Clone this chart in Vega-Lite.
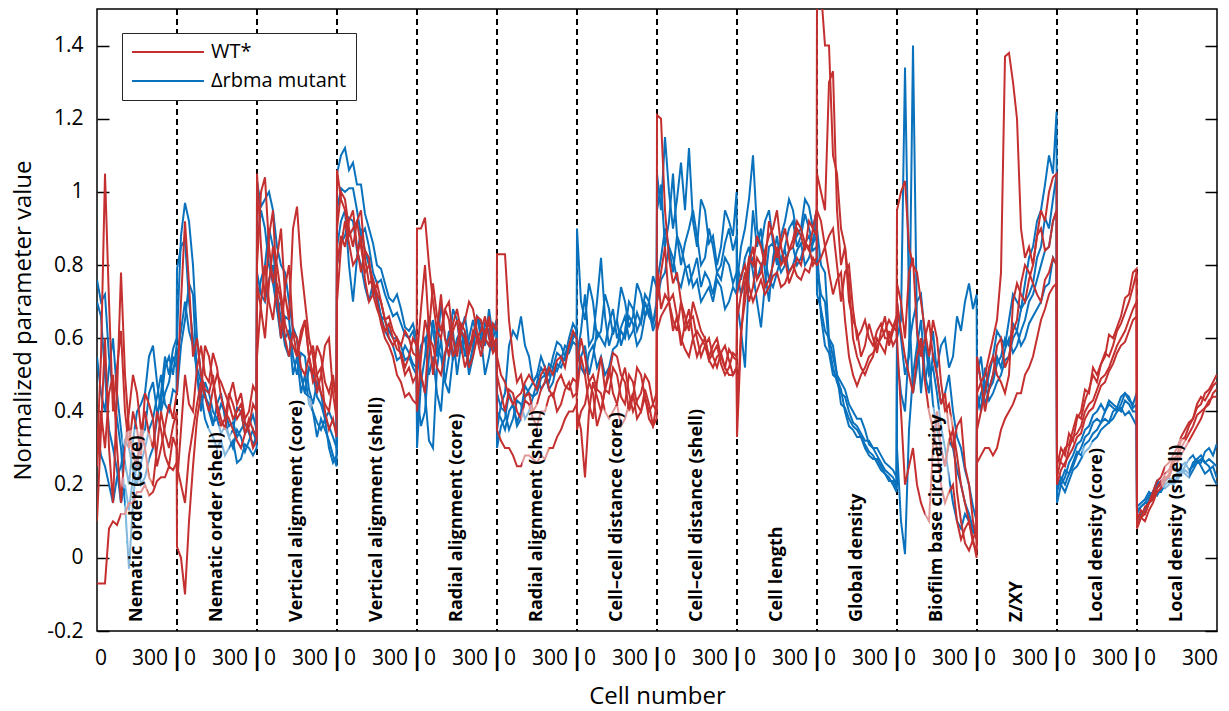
{
  "$schema": "https://vega.github.io/schema/vega-lite/v6.json",
  "width": 1120,
  "height": 622,
  "autosize": "none",
  "padding": {"left": 97, "top": 9, "right": 12, "bottom": 80},
  "background": "white",
  "config": {
    "font": "Open Sans",
    "view": {"stroke": "black", "strokeWidth": 1.5},
    "axis": {"labelFont": "Open Sans", "titleFont": "Open Sans", "labelColor": "black", "titleColor": "black", "titleFontWeight": "normal", "grid": false, "domain": false, "labelOverlap": false}
  },
  "datasets": {
    "b1": [
      {"x":0,"y":0.70},{"x":20,"y":0.66},{"x":40,"y":0.50},{"x":60,"y":0.35},{"x":80,"y":0.30},{"x":100,"y":0.24},{"x":120,"y":0.15},{"x":140,"y":0.20},{"x":160,"y":0.13},{"x":180,"y":0.22},{"x":200,"y":0.25},{"x":220,"y":0.33},{"x":240,"y":0.35},{"x":260,"y":0.45},{"x":280,"y":0.48},{"x":300,"y":0.40},{"x":320,"y":0.42},{"x":340,"y":0.52},{"x":360,"y":0.55},{"x":380,"y":0.50},{"x":398,"y":0.58},
      {"x":400,"y":0.60},{"x":420,"y":0.88},{"x":440,"y":0.97},{"x":460,"y":0.92},{"x":480,"y":0.80},{"x":500,"y":0.60},{"x":520,"y":0.50},{"x":540,"y":0.45},{"x":560,"y":0.40},{"x":580,"y":0.36},{"x":600,"y":0.42},{"x":620,"y":0.45},{"x":640,"y":0.38},{"x":660,"y":0.33},{"x":680,"y":0.35},{"x":700,"y":0.41},{"x":720,"y":0.40},{"x":740,"y":0.34},{"x":760,"y":0.36},{"x":780,"y":0.39},{"x":798,"y":0.35},
      {"x":800,"y":1.03},{"x":820,"y":0.96},{"x":840,"y":0.98},{"x":860,"y":1.00},{"x":880,"y":0.95},{"x":900,"y":0.85},{"x":920,"y":0.80},{"x":940,"y":0.78},{"x":960,"y":0.70},{"x":980,"y":0.62},{"x":1000,"y":0.60},{"x":1020,"y":0.50},{"x":1040,"y":0.45},{"x":1060,"y":0.44},{"x":1080,"y":0.40},{"x":1100,"y":0.37},{"x":1120,"y":0.35},{"x":1140,"y":0.38},{"x":1160,"y":0.30},{"x":1180,"y":0.26},{"x":1198,"y":0.28},
      {"x":1200,"y":1.05},{"x":1220,"y":1.10},{"x":1240,"y":1.12},{"x":1260,"y":1.06},{"x":1280,"y":1.08},{"x":1300,"y":1.02},{"x":1320,"y":1.02},{"x":1340,"y":0.94},{"x":1360,"y":0.90},{"x":1380,"y":0.86},{"x":1400,"y":0.80},{"x":1420,"y":0.79},{"x":1440,"y":0.75},{"x":1460,"y":0.71},{"x":1480,"y":0.70},{"x":1500,"y":0.72},{"x":1520,"y":0.68},{"x":1540,"y":0.63},{"x":1560,"y":0.62},{"x":1580,"y":0.64},{"x":1598,"y":0.60},
      {"x":1600,"y":0.30},{"x":1620,"y":0.48},{"x":1640,"y":0.55},{"x":1660,"y":0.66},{"x":1680,"y":0.62},{"x":1700,"y":0.55},{"x":1720,"y":0.70},{"x":1740,"y":0.60},{"x":1760,"y":0.58},{"x":1780,"y":0.68},{"x":1800,"y":0.65},{"x":1820,"y":0.56},{"x":1840,"y":0.60},{"x":1860,"y":0.50},{"x":1880,"y":0.55},{"x":1900,"y":0.66},{"x":1920,"y":0.62},{"x":1940,"y":0.58},{"x":1960,"y":0.68},{"x":1980,"y":0.60},{"x":1998,"y":0.63},
      {"x":2000,"y":0.35},{"x":2020,"y":0.42},{"x":2040,"y":0.45},{"x":2060,"y":0.58},{"x":2080,"y":0.62},{"x":2100,"y":0.60},{"x":2120,"y":0.66},{"x":2140,"y":0.58},{"x":2160,"y":0.55},{"x":2180,"y":0.48},{"x":2200,"y":0.50},{"x":2220,"y":0.55},{"x":2240,"y":0.52},{"x":2260,"y":0.50},{"x":2280,"y":0.55},{"x":2300,"y":0.59},{"x":2320,"y":0.58},{"x":2340,"y":0.55},{"x":2360,"y":0.60},{"x":2380,"y":0.64},{"x":2398,"y":0.62},
      {"x":2400,"y":0.90},{"x":2420,"y":0.70},{"x":2440,"y":0.65},{"x":2460,"y":0.75},{"x":2480,"y":0.70},{"x":2500,"y":0.60},{"x":2520,"y":0.62},{"x":2540,"y":0.72},{"x":2560,"y":0.68},{"x":2580,"y":0.61},{"x":2600,"y":0.65},{"x":2620,"y":0.74},{"x":2640,"y":0.70},{"x":2660,"y":0.63},{"x":2680,"y":0.66},{"x":2700,"y":0.75},{"x":2720,"y":0.72},{"x":2740,"y":0.66},{"x":2760,"y":0.70},{"x":2780,"y":0.77},{"x":2798,"y":0.74},
      {"x":2800,"y":1.05},{"x":2820,"y":0.95},{"x":2840,"y":1.15},{"x":2860,"y":1.00},{"x":2880,"y":0.90},{"x":2900,"y":0.98},{"x":2920,"y":1.08},{"x":2940,"y":0.95},{"x":2960,"y":1.12},{"x":2980,"y":0.92},{"x":3000,"y":0.85},{"x":3020,"y":0.98},{"x":3040,"y":0.95},{"x":3060,"y":0.86},{"x":3080,"y":0.88},{"x":3100,"y":0.80},{"x":3120,"y":0.85},{"x":3140,"y":0.95},{"x":3160,"y":0.92},{"x":3180,"y":0.88},{"x":3198,"y":1.00},
      {"x":3200,"y":0.75},{"x":3220,"y":0.85},{"x":3240,"y":0.90},{"x":3260,"y":0.98},{"x":3280,"y":1.10},{"x":3300,"y":0.90},{"x":3320,"y":0.85},{"x":3340,"y":0.92},{"x":3360,"y":0.95},{"x":3380,"y":0.86},{"x":3400,"y":0.80},{"x":3420,"y":0.88},{"x":3440,"y":0.92},{"x":3460,"y":0.98},{"x":3480,"y":0.95},{"x":3500,"y":0.88},{"x":3520,"y":0.90},{"x":3540,"y":0.98},{"x":3560,"y":0.96},{"x":3580,"y":0.90},{"x":3598,"y":0.95},
      {"x":3600,"y":0.90},{"x":3620,"y":0.80},{"x":3640,"y":0.78},{"x":3660,"y":0.60},{"x":3680,"y":0.55},{"x":3700,"y":0.50},{"x":3720,"y":0.48},{"x":3740,"y":0.46},{"x":3760,"y":0.42},{"x":3780,"y":0.40},{"x":3800,"y":0.38},{"x":3820,"y":0.38},{"x":3840,"y":0.35},{"x":3860,"y":0.31},{"x":3880,"y":0.30},{"x":3900,"y":0.30},{"x":3920,"y":0.28},{"x":3940,"y":0.26},{"x":3960,"y":0.25},{"x":3980,"y":0.24},{"x":3998,"y":0.22},
      {"x":4000,"y":0.60},{"x":4020,"y":0.65},{"x":4040,"y":1.34},{"x":4060,"y":0.70},{"x":4080,"y":0.45},{"x":4100,"y":0.52},{"x":4120,"y":0.60},{"x":4140,"y":0.48},{"x":4160,"y":0.55},{"x":4180,"y":0.62},{"x":4200,"y":0.50},{"x":4220,"y":0.42},{"x":4240,"y":0.45},{"x":4260,"y":0.50},{"x":4280,"y":0.40},{"x":4300,"y":0.33},{"x":4320,"y":0.30},{"x":4340,"y":0.24},{"x":4360,"y":0.20},{"x":4380,"y":0.14},{"x":4398,"y":0.10},
      {"x":4400,"y":0.50},{"x":4420,"y":0.55},{"x":4440,"y":0.45},{"x":4460,"y":0.50},{"x":4480,"y":0.55},{"x":4500,"y":0.62},{"x":4520,"y":0.60},{"x":4540,"y":0.58},{"x":4560,"y":0.65},{"x":4580,"y":0.72},{"x":4600,"y":0.70},{"x":4620,"y":0.68},{"x":4640,"y":0.75},{"x":4660,"y":0.82},{"x":4680,"y":0.85},{"x":4700,"y":0.92},{"x":4720,"y":0.95},{"x":4740,"y":1.02},{"x":4760,"y":1.10},{"x":4780,"y":1.05},{"x":4798,"y":1.22},
      {"x":4800,"y":0.15},{"x":4820,"y":0.20},{"x":4840,"y":0.22},{"x":4860,"y":0.26},{"x":4880,"y":0.28},{"x":4900,"y":0.31},{"x":4920,"y":0.32},{"x":4940,"y":0.35},{"x":4960,"y":0.36},{"x":4980,"y":0.39},{"x":5000,"y":0.40},{"x":5020,"y":0.42},{"x":5040,"y":0.40},{"x":5060,"y":0.43},{"x":5080,"y":0.42},{"x":5100,"y":0.41},{"x":5120,"y":0.44},{"x":5140,"y":0.45},{"x":5160,"y":0.43},{"x":5180,"y":0.42},{"x":5198,"y":0.45},
      {"x":5200,"y":0.12},{"x":5220,"y":0.14},{"x":5240,"y":0.15},{"x":5260,"y":0.17},{"x":5280,"y":0.18},{"x":5300,"y":0.21},{"x":5320,"y":0.20},{"x":5340,"y":0.22},{"x":5360,"y":0.22},{"x":5380,"y":0.25},{"x":5400,"y":0.24},{"x":5420,"y":0.23},{"x":5440,"y":0.25},{"x":5460,"y":0.27},{"x":5480,"y":0.28},{"x":5500,"y":0.26},{"x":5520,"y":0.26},{"x":5540,"y":0.29},{"x":5560,"y":0.30},{"x":5580,"y":0.28},{"x":5598,"y":0.31}
    ],
    "b2": [
      {"x":0,"y":0.76},{"x":20,"y":0.70},{"x":40,"y":0.72},{"x":60,"y":0.55},{"x":80,"y":0.45},{"x":100,"y":0.38},{"x":120,"y":0.30},{"x":140,"y":0.15},{"x":160,"y":-0.03},{"x":180,"y":0.15},{"x":200,"y":0.28},{"x":220,"y":0.20},{"x":240,"y":0.22},{"x":260,"y":0.27},{"x":280,"y":0.30},{"x":300,"y":0.38},{"x":320,"y":0.45},{"x":340,"y":0.55},{"x":360,"y":0.50},{"x":380,"y":0.57},{"x":398,"y":0.60},
      {"x":400,"y":0.79},{"x":420,"y":0.85},{"x":440,"y":0.87},{"x":460,"y":0.70},{"x":480,"y":0.60},{"x":500,"y":0.50},{"x":520,"y":0.45},{"x":540,"y":0.38},{"x":560,"y":0.35},{"x":580,"y":0.33},{"x":600,"y":0.30},{"x":620,"y":0.32},{"x":640,"y":0.28},{"x":660,"y":0.30},{"x":680,"y":0.32},{"x":700,"y":0.26},{"x":720,"y":0.27},{"x":740,"y":0.31},{"x":760,"y":0.30},{"x":780,"y":0.28},{"x":798,"y":0.30},
      {"x":800,"y":0.85},{"x":820,"y":0.95},{"x":840,"y":0.90},{"x":860,"y":0.80},{"x":880,"y":0.75},{"x":900,"y":0.68},{"x":920,"y":0.70},{"x":940,"y":0.60},{"x":960,"y":0.62},{"x":980,"y":0.50},{"x":1000,"y":0.55},{"x":1020,"y":0.45},{"x":1040,"y":0.50},{"x":1060,"y":0.42},{"x":1080,"y":0.40},{"x":1100,"y":0.33},{"x":1120,"y":0.38},{"x":1140,"y":0.35},{"x":1160,"y":0.32},{"x":1180,"y":0.28},{"x":1198,"y":0.25},
      {"x":1200,"y":0.95},{"x":1220,"y":1.01},{"x":1240,"y":1.00},{"x":1260,"y":1.01},{"x":1280,"y":1.01},{"x":1300,"y":0.95},{"x":1320,"y":0.88},{"x":1340,"y":0.90},{"x":1360,"y":0.85},{"x":1380,"y":0.78},{"x":1400,"y":0.75},{"x":1420,"y":0.76},{"x":1440,"y":0.72},{"x":1460,"y":0.69},{"x":1480,"y":0.66},{"x":1500,"y":0.67},{"x":1520,"y":0.64},{"x":1540,"y":0.61},{"x":1560,"y":0.60},{"x":1580,"y":0.62},{"x":1598,"y":0.58},
      {"x":1600,"y":0.35},{"x":1620,"y":0.50},{"x":1640,"y":0.45},{"x":1660,"y":0.32},{"x":1680,"y":0.30},{"x":1700,"y":0.52},{"x":1720,"y":0.60},{"x":1740,"y":0.48},{"x":1760,"y":0.55},{"x":1780,"y":0.62},{"x":1800,"y":0.50},{"x":1820,"y":0.58},{"x":1840,"y":0.62},{"x":1860,"y":0.52},{"x":1880,"y":0.58},{"x":1900,"y":0.66},{"x":1920,"y":0.60},{"x":1940,"y":0.50},{"x":1960,"y":0.55},{"x":1980,"y":0.62},{"x":1998,"y":0.65},
      {"x":2000,"y":0.30},{"x":2020,"y":0.36},{"x":2040,"y":0.38},{"x":2060,"y":0.45},{"x":2080,"y":0.42},{"x":2100,"y":0.37},{"x":2120,"y":0.40},{"x":2140,"y":0.47},{"x":2160,"y":0.45},{"x":2180,"y":0.44},{"x":2200,"y":0.48},{"x":2220,"y":0.52},{"x":2240,"y":0.50},{"x":2260,"y":0.48},{"x":2280,"y":0.52},{"x":2300,"y":0.56},{"x":2320,"y":0.55},{"x":2340,"y":0.54},{"x":2360,"y":0.58},{"x":2380,"y":0.61},{"x":2398,"y":0.60},
      {"x":2400,"y":0.55},{"x":2420,"y":0.62},{"x":2440,"y":0.72},{"x":2460,"y":0.58},{"x":2480,"y":0.60},{"x":2500,"y":0.70},{"x":2520,"y":0.82},{"x":2540,"y":0.66},{"x":2560,"y":0.58},{"x":2580,"y":0.62},{"x":2600,"y":0.65},{"x":2620,"y":0.58},{"x":2640,"y":0.62},{"x":2660,"y":0.70},{"x":2680,"y":0.68},{"x":2700,"y":0.62},{"x":2720,"y":0.65},{"x":2740,"y":0.72},{"x":2760,"y":0.70},{"x":2780,"y":0.64},{"x":2798,"y":0.68},
      {"x":2800,"y":0.95},{"x":2820,"y":1.02},{"x":2840,"y":0.85},{"x":2860,"y":0.92},{"x":2880,"y":1.05},{"x":2900,"y":0.88},{"x":2920,"y":0.80},{"x":2940,"y":0.86},{"x":2960,"y":0.90},{"x":2980,"y":0.95},{"x":3000,"y":0.88},{"x":3020,"y":0.80},{"x":3040,"y":0.82},{"x":3060,"y":0.90},{"x":3080,"y":0.85},{"x":3100,"y":0.78},{"x":3120,"y":0.80},{"x":3140,"y":0.86},{"x":3160,"y":0.90},{"x":3180,"y":0.84},{"x":3198,"y":0.88},
      {"x":3200,"y":0.70},{"x":3220,"y":0.62},{"x":3240,"y":0.52},{"x":3260,"y":0.78},{"x":3280,"y":0.95},{"x":3300,"y":0.85},{"x":3320,"y":0.90},{"x":3340,"y":0.78},{"x":3360,"y":0.70},{"x":3380,"y":0.82},{"x":3400,"y":0.88},{"x":3420,"y":0.80},{"x":3440,"y":0.85},{"x":3460,"y":0.90},{"x":3480,"y":0.92},{"x":3500,"y":0.85},{"x":3520,"y":0.88},{"x":3540,"y":0.94},{"x":3560,"y":0.90},{"x":3580,"y":0.86},{"x":3598,"y":0.93},
      {"x":3600,"y":0.80},{"x":3620,"y":0.72},{"x":3640,"y":0.70},{"x":3660,"y":0.58},{"x":3680,"y":0.52},{"x":3700,"y":0.48},{"x":3720,"y":0.45},{"x":3740,"y":0.44},{"x":3760,"y":0.40},{"x":3780,"y":0.37},{"x":3800,"y":0.36},{"x":3820,"y":0.34},{"x":3840,"y":0.32},{"x":3860,"y":0.32},{"x":3880,"y":0.30},{"x":3900,"y":0.28},{"x":3920,"y":0.26},{"x":3940,"y":0.24},{"x":3960,"y":0.23},{"x":3980,"y":0.22},{"x":3998,"y":0.20},
      {"x":4000,"y":0.30},{"x":4020,"y":0.10},{"x":4040,"y":0.01},{"x":4060,"y":0.35},{"x":4080,"y":0.50},{"x":4100,"y":0.58},{"x":4120,"y":0.65},{"x":4140,"y":0.50},{"x":4160,"y":0.45},{"x":4180,"y":0.56},{"x":4200,"y":0.52},{"x":4220,"y":0.58},{"x":4240,"y":0.60},{"x":4260,"y":0.52},{"x":4280,"y":0.55},{"x":4300,"y":0.66},{"x":4320,"y":0.62},{"x":4340,"y":0.70},{"x":4360,"y":0.75},{"x":4380,"y":0.68},{"x":4398,"y":0.72},
      {"x":4400,"y":0.45},{"x":4420,"y":0.40},{"x":4440,"y":0.52},{"x":4460,"y":0.46},{"x":4480,"y":0.48},{"x":4500,"y":0.53},{"x":4520,"y":0.55},{"x":4540,"y":0.60},{"x":4560,"y":0.58},{"x":4580,"y":0.64},{"x":4600,"y":0.62},{"x":4620,"y":0.68},{"x":4640,"y":0.70},{"x":4660,"y":0.72},{"x":4680,"y":0.75},{"x":4700,"y":0.82},{"x":4720,"y":0.85},{"x":4740,"y":0.93},{"x":4760,"y":0.90},{"x":4780,"y":0.98},{"x":4798,"y":1.05},
      {"x":4800,"y":0.18},{"x":4820,"y":0.22},{"x":4840,"y":0.20},{"x":4860,"y":0.23},{"x":4880,"y":0.25},{"x":4900,"y":0.28},{"x":4920,"y":0.30},{"x":4940,"y":0.33},{"x":4960,"y":0.34},{"x":4980,"y":0.37},{"x":5000,"y":0.38},{"x":5020,"y":0.37},{"x":5040,"y":0.40},{"x":5060,"y":0.42},{"x":5080,"y":0.41},{"x":5100,"y":0.40},{"x":5120,"y":0.42},{"x":5140,"y":0.45},{"x":5160,"y":0.44},{"x":5180,"y":0.41},{"x":5198,"y":0.42},
      {"x":5200,"y":0.14},{"x":5220,"y":0.15},{"x":5240,"y":0.16},{"x":5260,"y":0.18},{"x":5280,"y":0.17},{"x":5300,"y":0.20},{"x":5320,"y":0.21},{"x":5340,"y":0.19},{"x":5360,"y":0.20},{"x":5380,"y":0.22},{"x":5400,"y":0.23},{"x":5420,"y":0.25},{"x":5440,"y":0.26},{"x":5460,"y":0.24},{"x":5480,"y":0.25},{"x":5500,"y":0.27},{"x":5520,"y":0.28},{"x":5540,"y":0.26},{"x":5560,"y":0.27},{"x":5580,"y":0.26},{"x":5598,"y":0.25}
    ],
    "b3": [
      {"x":0,"y":0.55},{"x":20,"y":0.45},{"x":40,"y":0.40},{"x":60,"y":0.52},{"x":80,"y":0.60},{"x":100,"y":0.45},{"x":120,"y":0.35},{"x":140,"y":0.26},{"x":160,"y":0.20},{"x":180,"y":0.32},{"x":200,"y":0.40},{"x":220,"y":0.42},{"x":240,"y":0.45},{"x":260,"y":0.55},{"x":280,"y":0.58},{"x":300,"y":0.48},{"x":320,"y":0.40},{"x":340,"y":0.45},{"x":360,"y":0.48},{"x":380,"y":0.55},{"x":398,"y":0.52},
      {"x":400,"y":0.45},{"x":420,"y":0.58},{"x":440,"y":0.65},{"x":460,"y":0.75},{"x":480,"y":0.72},{"x":500,"y":0.50},{"x":520,"y":0.40},{"x":540,"y":0.48},{"x":560,"y":0.45},{"x":580,"y":0.40},{"x":600,"y":0.38},{"x":620,"y":0.34},{"x":640,"y":0.36},{"x":660,"y":0.33},{"x":680,"y":0.30},{"x":700,"y":0.35},{"x":720,"y":0.33},{"x":740,"y":0.29},{"x":760,"y":0.32},{"x":780,"y":0.35},{"x":798,"y":0.31},
      {"x":800,"y":0.70},{"x":820,"y":0.76},{"x":840,"y":0.80},{"x":860,"y":0.90},{"x":880,"y":0.85},{"x":900,"y":0.72},{"x":920,"y":0.65},{"x":940,"y":0.58},{"x":960,"y":0.55},{"x":980,"y":0.63},{"x":1000,"y":0.60},{"x":1020,"y":0.50},{"x":1040,"y":0.45},{"x":1060,"y":0.52},{"x":1080,"y":0.50},{"x":1100,"y":0.44},{"x":1120,"y":0.42},{"x":1140,"y":0.38},{"x":1160,"y":0.36},{"x":1180,"y":0.33},{"x":1198,"y":0.30},
      {"x":1200,"y":0.85},{"x":1220,"y":0.92},{"x":1240,"y":0.95},{"x":1260,"y":0.80},{"x":1280,"y":0.70},{"x":1300,"y":0.82},{"x":1320,"y":0.90},{"x":1340,"y":0.84},{"x":1360,"y":0.80},{"x":1380,"y":0.74},{"x":1400,"y":0.70},{"x":1420,"y":0.66},{"x":1440,"y":0.62},{"x":1460,"y":0.60},{"x":1480,"y":0.58},{"x":1500,"y":0.54},{"x":1520,"y":0.55},{"x":1540,"y":0.58},{"x":1560,"y":0.56},{"x":1580,"y":0.53},{"x":1598,"y":0.52},
      {"x":1600,"y":0.50},{"x":1620,"y":0.58},{"x":1640,"y":0.60},{"x":1660,"y":0.50},{"x":1680,"y":0.55},{"x":1700,"y":0.45},{"x":1720,"y":0.40},{"x":1740,"y":0.55},{"x":1760,"y":0.62},{"x":1780,"y":0.54},{"x":1800,"y":0.58},{"x":1820,"y":0.63},{"x":1840,"y":0.55},{"x":1860,"y":0.60},{"x":1880,"y":0.65},{"x":1900,"y":0.60},{"x":1920,"y":0.58},{"x":1940,"y":0.64},{"x":1960,"y":0.62},{"x":1980,"y":0.57},{"x":1998,"y":0.60},
      {"x":2000,"y":0.45},{"x":2020,"y":0.41},{"x":2040,"y":0.40},{"x":2060,"y":0.35},{"x":2080,"y":0.38},{"x":2100,"y":0.43},{"x":2120,"y":0.42},{"x":2140,"y":0.38},{"x":2160,"y":0.40},{"x":2180,"y":0.44},{"x":2200,"y":0.45},{"x":2220,"y":0.49},{"x":2240,"y":0.50},{"x":2260,"y":0.46},{"x":2280,"y":0.48},{"x":2300,"y":0.53},{"x":2320,"y":0.52},{"x":2340,"y":0.55},{"x":2360,"y":0.56},{"x":2380,"y":0.59},{"x":2398,"y":0.58},
      {"x":2400,"y":0.48},{"x":2420,"y":0.55},{"x":2440,"y":0.58},{"x":2460,"y":0.50},{"x":2480,"y":0.55},{"x":2500,"y":0.62},{"x":2520,"y":0.60},{"x":2540,"y":0.58},{"x":2560,"y":0.64},{"x":2580,"y":0.68},{"x":2600,"y":0.60},{"x":2620,"y":0.63},{"x":2640,"y":0.66},{"x":2660,"y":0.60},{"x":2680,"y":0.62},{"x":2700,"y":0.67},{"x":2720,"y":0.64},{"x":2740,"y":0.70},{"x":2760,"y":0.66},{"x":2780,"y":0.64},{"x":2798,"y":0.70},
      {"x":2800,"y":0.75},{"x":2820,"y":0.82},{"x":2840,"y":0.90},{"x":2860,"y":0.85},{"x":2880,"y":0.78},{"x":2900,"y":0.88},{"x":2920,"y":0.85},{"x":2940,"y":0.80},{"x":2960,"y":0.75},{"x":2980,"y":0.78},{"x":3000,"y":0.82},{"x":3020,"y":0.74},{"x":3040,"y":0.78},{"x":3060,"y":0.76},{"x":3080,"y":0.72},{"x":3100,"y":0.78},{"x":3120,"y":0.76},{"x":3140,"y":0.82},{"x":3160,"y":0.80},{"x":3180,"y":0.75},{"x":3198,"y":0.78},
      {"x":3200,"y":0.80},{"x":3220,"y":0.76},{"x":3240,"y":0.82},{"x":3260,"y":0.85},{"x":3280,"y":0.78},{"x":3300,"y":0.70},{"x":3320,"y":0.63},{"x":3340,"y":0.75},{"x":3360,"y":0.85},{"x":3380,"y":0.86},{"x":3400,"y":0.82},{"x":3420,"y":0.78},{"x":3440,"y":0.80},{"x":3460,"y":0.84},{"x":3480,"y":0.85},{"x":3500,"y":0.80},{"x":3520,"y":0.82},{"x":3540,"y":0.86},{"x":3560,"y":0.88},{"x":3580,"y":0.84},{"x":3598,"y":0.85},
      {"x":3600,"y":0.72},{"x":3620,"y":0.68},{"x":3640,"y":0.62},{"x":3660,"y":0.60},{"x":3680,"y":0.58},{"x":3700,"y":0.50},{"x":3720,"y":0.42},{"x":3740,"y":0.41},{"x":3760,"y":0.38},{"x":3780,"y":0.36},{"x":3800,"y":0.35},{"x":3820,"y":0.33},{"x":3840,"y":0.30},{"x":3860,"y":0.28},{"x":3880,"y":0.27},{"x":3900,"y":0.27},{"x":3920,"y":0.25},{"x":3940,"y":0.23},{"x":3960,"y":0.22},{"x":3980,"y":0.20},{"x":3998,"y":0.18},
      {"x":4000,"y":0.70},{"x":4020,"y":0.60},{"x":4040,"y":0.50},{"x":4060,"y":0.55},{"x":4080,"y":1.40},{"x":4100,"y":0.62},{"x":4120,"y":0.45},{"x":4140,"y":0.58},{"x":4160,"y":0.55},{"x":4180,"y":0.42},{"x":4200,"y":0.35},{"x":4220,"y":0.30},{"x":4240,"y":0.25},{"x":4260,"y":0.32},{"x":4280,"y":0.30},{"x":4300,"y":0.24},{"x":4320,"y":0.20},{"x":4340,"y":0.15},{"x":4360,"y":0.12},{"x":4380,"y":0.08},{"x":4398,"y":0.05},
      {"x":4400,"y":0.55},{"x":4420,"y":0.48},{"x":4440,"y":0.42},{"x":4460,"y":0.46},{"x":4480,"y":0.50},{"x":4500,"y":0.55},{"x":4520,"y":0.52},{"x":4540,"y":0.57},{"x":4560,"y":0.60},{"x":4580,"y":0.56},{"x":4600,"y":0.58},{"x":4620,"y":0.62},{"x":4640,"y":0.65},{"x":4660,"y":0.70},{"x":4680,"y":0.72},{"x":4700,"y":0.76},{"x":4720,"y":0.80},{"x":4740,"y":0.84},{"x":4760,"y":0.85},{"x":4780,"y":0.92},{"x":4798,"y":0.95},
      {"x":4800,"y":0.20},{"x":4820,"y":0.21},{"x":4840,"y":0.24},{"x":4860,"y":0.23},{"x":4880,"y":0.26},{"x":4900,"y":0.29},{"x":4920,"y":0.28},{"x":4940,"y":0.31},{"x":4960,"y":0.32},{"x":4980,"y":0.34},{"x":5000,"y":0.35},{"x":5020,"y":0.37},{"x":5040,"y":0.38},{"x":5060,"y":0.37},{"x":5080,"y":0.40},{"x":5100,"y":0.41},{"x":5120,"y":0.40},{"x":5140,"y":0.43},{"x":5160,"y":0.42},{"x":5180,"y":0.40},{"x":5198,"y":0.40},
      {"x":5200,"y":0.10},{"x":5220,"y":0.12},{"x":5240,"y":0.13},{"x":5260,"y":0.16},{"x":5280,"y":0.18},{"x":5300,"y":0.17},{"x":5320,"y":0.19},{"x":5340,"y":0.21},{"x":5360,"y":0.22},{"x":5380,"y":0.20},{"x":5400,"y":0.21},{"x":5420,"y":0.23},{"x":5440,"y":0.24},{"x":5460,"y":0.23},{"x":5480,"y":0.26},{"x":5500,"y":0.27},{"x":5520,"y":0.25},{"x":5540,"y":0.23},{"x":5560,"y":0.24},{"x":5580,"y":0.25},{"x":5598,"y":0.22}
    ],
    "b4": [
      {"x":0,"y":0.35},{"x":20,"y":0.28},{"x":40,"y":0.25},{"x":60,"y":0.20},{"x":80,"y":0.15},{"x":100,"y":0.22},{"x":120,"y":0.25},{"x":140,"y":0.32},{"x":160,"y":0.30},{"x":180,"y":0.24},{"x":200,"y":0.20},{"x":220,"y":0.26},{"x":240,"y":0.30},{"x":260,"y":0.35},{"x":280,"y":0.38},{"x":300,"y":0.44},{"x":320,"y":0.50},{"x":340,"y":0.42},{"x":360,"y":0.40},{"x":380,"y":0.46},{"x":398,"y":0.45},
      {"x":400,"y":0.55},{"x":420,"y":0.62},{"x":440,"y":0.70},{"x":460,"y":0.62},{"x":480,"y":0.58},{"x":500,"y":0.52},{"x":520,"y":0.48},{"x":540,"y":0.44},{"x":560,"y":0.42},{"x":580,"y":0.37},{"x":600,"y":0.38},{"x":620,"y":0.42},{"x":640,"y":0.40},{"x":660,"y":0.36},{"x":680,"y":0.37},{"x":700,"y":0.33},{"x":720,"y":0.35},{"x":740,"y":0.37},{"x":760,"y":0.34},{"x":780,"y":0.31},{"x":798,"y":0.33},
      {"x":800,"y":0.78},{"x":820,"y":0.72},{"x":840,"y":0.70},{"x":860,"y":0.76},{"x":880,"y":0.80},{"x":900,"y":0.68},{"x":920,"y":0.60},{"x":940,"y":0.66},{"x":960,"y":0.65},{"x":980,"y":0.55},{"x":1000,"y":0.50},{"x":1020,"y":0.56},{"x":1040,"y":0.55},{"x":1060,"y":0.46},{"x":1080,"y":0.42},{"x":1100,"y":0.48},{"x":1120,"y":0.45},{"x":1140,"y":0.38},{"x":1160,"y":0.40},{"x":1180,"y":0.37},{"x":1198,"y":0.35},
      {"x":1200,"y":0.80},{"x":1220,"y":0.86},{"x":1240,"y":0.88},{"x":1260,"y":0.93},{"x":1280,"y":0.92},{"x":1300,"y":0.84},{"x":1320,"y":0.80},{"x":1340,"y":0.74},{"x":1360,"y":0.70},{"x":1380,"y":0.75},{"x":1400,"y":0.72},{"x":1420,"y":0.66},{"x":1440,"y":0.65},{"x":1460,"y":0.62},{"x":1480,"y":0.60},{"x":1500,"y":0.60},{"x":1520,"y":0.58},{"x":1540,"y":0.54},{"x":1560,"y":0.55},{"x":1580,"y":0.52},{"x":1598,"y":0.50},
      {"x":1600,"y":0.45},{"x":1620,"y":0.36},{"x":1640,"y":0.40},{"x":1660,"y":0.55},{"x":1680,"y":0.65},{"x":1700,"y":0.58},{"x":1720,"y":0.55},{"x":1740,"y":0.48},{"x":1760,"y":0.45},{"x":1780,"y":0.55},{"x":1800,"y":0.60},{"x":1820,"y":0.62},{"x":1840,"y":0.66},{"x":1860,"y":0.58},{"x":1880,"y":0.60},{"x":1900,"y":0.66},{"x":1920,"y":0.64},{"x":1940,"y":0.60},{"x":1960,"y":0.58},{"x":1980,"y":0.63},{"x":1998,"y":0.62},
      {"x":2000,"y":0.40},{"x":2020,"y":0.38},{"x":2040,"y":0.35},{"x":2060,"y":0.40},{"x":2080,"y":0.42},{"x":2100,"y":0.36},{"x":2120,"y":0.38},{"x":2140,"y":0.44},{"x":2160,"y":0.46},{"x":2180,"y":0.48},{"x":2200,"y":0.50},{"x":2220,"y":0.46},{"x":2240,"y":0.48},{"x":2260,"y":0.53},{"x":2280,"y":0.52},{"x":2300,"y":0.51},{"x":2320,"y":0.54},{"x":2340,"y":0.58},{"x":2360,"y":0.57},{"x":2380,"y":0.60},{"x":2398,"y":0.62},
      {"x":2400,"y":0.60},{"x":2420,"y":0.52},{"x":2440,"y":0.50},{"x":2460,"y":0.56},{"x":2480,"y":0.58},{"x":2500,"y":0.52},{"x":2520,"y":0.55},{"x":2540,"y":0.50},{"x":2560,"y":0.52},{"x":2580,"y":0.57},{"x":2600,"y":0.58},{"x":2620,"y":0.62},{"x":2640,"y":0.60},{"x":2660,"y":0.66},{"x":2680,"y":0.64},{"x":2700,"y":0.58},{"x":2720,"y":0.60},{"x":2740,"y":0.66},{"x":2760,"y":0.68},{"x":2780,"y":0.62},{"x":2798,"y":0.65},
      {"x":2800,"y":0.70},{"x":2820,"y":0.76},{"x":2840,"y":0.78},{"x":2860,"y":0.85},{"x":2880,"y":0.82},{"x":2900,"y":0.76},{"x":2920,"y":0.74},{"x":2940,"y":0.79},{"x":2960,"y":0.80},{"x":2980,"y":0.74},{"x":3000,"y":0.76},{"x":3020,"y":0.70},{"x":3040,"y":0.72},{"x":3060,"y":0.74},{"x":3080,"y":0.70},{"x":3100,"y":0.76},{"x":3120,"y":0.74},{"x":3140,"y":0.68},{"x":3160,"y":0.70},{"x":3180,"y":0.74},{"x":3198,"y":0.72},
      {"x":3200,"y":0.78},{"x":3220,"y":0.72},{"x":3240,"y":0.75},{"x":3260,"y":0.80},{"x":3280,"y":0.82},{"x":3300,"y":0.76},{"x":3320,"y":0.80},{"x":3340,"y":0.82},{"x":3360,"y":0.76},{"x":3380,"y":0.74},{"x":3400,"y":0.78},{"x":3420,"y":0.82},{"x":3440,"y":0.84},{"x":3460,"y":0.78},{"x":3480,"y":0.80},{"x":3500,"y":0.84},{"x":3520,"y":0.86},{"x":3540,"y":0.80},{"x":3560,"y":0.82},{"x":3580,"y":0.86},{"x":3598,"y":0.88},
      {"x":3600,"y":0.85},{"x":3620,"y":0.66},{"x":3640,"y":0.58},{"x":3660,"y":0.56},{"x":3680,"y":0.50},{"x":3700,"y":0.49},{"x":3720,"y":0.46},{"x":3740,"y":0.40},{"x":3760,"y":0.36},{"x":3780,"y":0.35},{"x":3800,"y":0.33},{"x":3820,"y":0.33},{"x":3840,"y":0.31},{"x":3860,"y":0.29},{"x":3880,"y":0.28},{"x":3900,"y":0.26},{"x":3920,"y":0.24},{"x":3940,"y":0.23},{"x":3960,"y":0.21},{"x":3980,"y":0.21},{"x":3998,"y":0.19},
      {"x":4000,"y":0.55},{"x":4020,"y":0.45},{"x":4040,"y":0.40},{"x":4060,"y":0.58},{"x":4080,"y":0.65},{"x":4100,"y":0.70},{"x":4120,"y":0.72},{"x":4140,"y":0.60},{"x":4160,"y":0.50},{"x":4180,"y":0.52},{"x":4200,"y":0.45},{"x":4220,"y":0.36},{"x":4240,"y":0.30},{"x":4260,"y":0.22},{"x":4280,"y":0.15},{"x":4300,"y":0.10},{"x":4320,"y":0.08},{"x":4340,"y":0.12},{"x":4360,"y":0.10},{"x":4380,"y":0.07},{"x":4398,"y":0.06},
      {"x":4400,"y":0.40},{"x":4420,"y":0.45},{"x":4440,"y":0.48},{"x":4460,"y":0.43},{"x":4480,"y":0.45},{"x":4500,"y":0.48},{"x":4520,"y":0.50},{"x":4540,"y":0.54},{"x":4560,"y":0.55},{"x":4580,"y":0.60},{"x":4600,"y":0.62},{"x":4620,"y":0.58},{"x":4640,"y":0.60},{"x":4660,"y":0.64},{"x":4680,"y":0.66},{"x":4700,"y":0.68},{"x":4720,"y":0.70},{"x":4740,"y":0.74},{"x":4760,"y":0.75},{"x":4780,"y":0.82},{"x":4798,"y":0.80},
      {"x":4800,"y":0.22},{"x":4820,"y":0.20},{"x":4840,"y":0.18},{"x":4860,"y":0.21},{"x":4880,"y":0.24},{"x":4900,"y":0.25},{"x":4920,"y":0.27},{"x":4940,"y":0.29},{"x":4960,"y":0.30},{"x":4980,"y":0.32},{"x":5000,"y":0.33},{"x":5020,"y":0.35},{"x":5040,"y":0.36},{"x":5060,"y":0.37},{"x":5080,"y":0.38},{"x":5100,"y":0.40},{"x":5120,"y":0.41},{"x":5140,"y":0.39},{"x":5160,"y":0.40},{"x":5180,"y":0.38},{"x":5198,"y":0.36},
      {"x":5200,"y":0.13},{"x":5220,"y":0.14},{"x":5240,"y":0.15},{"x":5260,"y":0.15},{"x":5280,"y":0.16},{"x":5300,"y":0.18},{"x":5320,"y":0.18},{"x":5340,"y":0.20},{"x":5360,"y":0.21},{"x":5380,"y":0.20},{"x":5400,"y":0.22},{"x":5420,"y":0.24},{"x":5440,"y":0.23},{"x":5460,"y":0.22},{"x":5480,"y":0.24},{"x":5500,"y":0.26},{"x":5520,"y":0.27},{"x":5540,"y":0.26},{"x":5560,"y":0.25},{"x":5580,"y":0.22},{"x":5598,"y":0.20}
    ],
    "r1": [
      {"x":0,"y":0.28},{"x":20,"y":0.55},{"x":40,"y":1.05},{"x":60,"y":0.70},{"x":80,"y":0.40},{"x":100,"y":0.52},{"x":120,"y":0.62},{"x":140,"y":0.40},{"x":160,"y":0.30},{"x":180,"y":0.40},{"x":200,"y":0.35},{"x":220,"y":0.28},{"x":240,"y":0.45},{"x":260,"y":0.42},{"x":280,"y":0.38},{"x":300,"y":0.25},{"x":320,"y":0.30},{"x":340,"y":0.36},{"x":360,"y":0.42},{"x":380,"y":0.38},{"x":398,"y":0.45},
      {"x":400,"y":0.45},{"x":420,"y":0.70},{"x":440,"y":0.92},{"x":460,"y":0.75},{"x":480,"y":0.55},{"x":500,"y":0.60},{"x":520,"y":0.50},{"x":540,"y":0.46},{"x":560,"y":0.45},{"x":580,"y":0.50},{"x":600,"y":0.40},{"x":620,"y":0.36},{"x":640,"y":0.38},{"x":660,"y":0.45},{"x":680,"y":0.42},{"x":700,"y":0.38},{"x":720,"y":0.40},{"x":740,"y":0.34},{"x":760,"y":0.36},{"x":780,"y":0.42},{"x":798,"y":0.40},
      {"x":800,"y":1.05},{"x":820,"y":0.85},{"x":840,"y":0.70},{"x":860,"y":0.88},{"x":880,"y":0.95},{"x":900,"y":0.72},{"x":920,"y":0.60},{"x":940,"y":0.74},{"x":960,"y":0.80},{"x":980,"y":0.62},{"x":1000,"y":0.55},{"x":1020,"y":0.60},{"x":1040,"y":0.65},{"x":1060,"y":0.55},{"x":1080,"y":0.50},{"x":1100,"y":0.58},{"x":1120,"y":0.55},{"x":1140,"y":0.48},{"x":1160,"y":0.45},{"x":1180,"y":0.50},{"x":1198,"y":0.42},
      {"x":1200,"y":1.06},{"x":1220,"y":0.98},{"x":1240,"y":0.95},{"x":1260,"y":0.88},{"x":1280,"y":0.90},{"x":1300,"y":0.92},{"x":1320,"y":0.85},{"x":1340,"y":0.78},{"x":1360,"y":0.80},{"x":1380,"y":0.76},{"x":1400,"y":0.72},{"x":1420,"y":0.70},{"x":1440,"y":0.65},{"x":1460,"y":0.60},{"x":1480,"y":0.58},{"x":1500,"y":0.60},{"x":1520,"y":0.55},{"x":1540,"y":0.50},{"x":1560,"y":0.52},{"x":1580,"y":0.48},{"x":1598,"y":0.50},
      {"x":1600,"y":0.90},{"x":1620,"y":0.90},{"x":1640,"y":0.93},{"x":1660,"y":0.80},{"x":1680,"y":0.70},{"x":1700,"y":0.62},{"x":1720,"y":0.60},{"x":1740,"y":0.68},{"x":1760,"y":0.65},{"x":1780,"y":0.55},{"x":1800,"y":0.58},{"x":1820,"y":0.64},{"x":1840,"y":0.62},{"x":1860,"y":0.56},{"x":1880,"y":0.60},{"x":1900,"y":0.66},{"x":1920,"y":0.65},{"x":1940,"y":0.60},{"x":1960,"y":0.58},{"x":1980,"y":0.64},{"x":1998,"y":0.62},
      {"x":2000,"y":0.83},{"x":2020,"y":0.83},{"x":2040,"y":0.83},{"x":2060,"y":0.65},{"x":2080,"y":0.55},{"x":2100,"y":0.48},{"x":2120,"y":0.50},{"x":2140,"y":0.44},{"x":2160,"y":0.45},{"x":2180,"y":0.40},{"x":2200,"y":0.42},{"x":2220,"y":0.46},{"x":2240,"y":0.48},{"x":2260,"y":0.52},{"x":2280,"y":0.50},{"x":2300,"y":0.54},{"x":2320,"y":0.55},{"x":2340,"y":0.52},{"x":2360,"y":0.58},{"x":2380,"y":0.62},{"x":2398,"y":0.60},
      {"x":2400,"y":0.45},{"x":2420,"y":0.55},{"x":2440,"y":0.50},{"x":2460,"y":0.42},{"x":2480,"y":0.38},{"x":2500,"y":0.48},{"x":2520,"y":0.55},{"x":2540,"y":0.46},{"x":2560,"y":0.45},{"x":2580,"y":0.52},{"x":2600,"y":0.50},{"x":2620,"y":0.44},{"x":2640,"y":0.42},{"x":2660,"y":0.50},{"x":2680,"y":0.48},{"x":2700,"y":0.42},{"x":2720,"y":0.40},{"x":2740,"y":0.44},{"x":2760,"y":0.38},{"x":2780,"y":0.36},{"x":2798,"y":0.42},
      {"x":2800,"y":1.21},{"x":2820,"y":1.20},{"x":2840,"y":0.95},{"x":2860,"y":0.82},{"x":2880,"y":0.75},{"x":2900,"y":0.78},{"x":2920,"y":0.70},{"x":2940,"y":0.62},{"x":2960,"y":0.65},{"x":2980,"y":0.66},{"x":3000,"y":0.60},{"x":3020,"y":0.55},{"x":3040,"y":0.58},{"x":3060,"y":0.60},{"x":3080,"y":0.55},{"x":3100,"y":0.52},{"x":3120,"y":0.56},{"x":3140,"y":0.58},{"x":3160,"y":0.54},{"x":3180,"y":0.50},{"x":3198,"y":0.52},
      {"x":3200,"y":0.33},{"x":3220,"y":0.60},{"x":3240,"y":0.75},{"x":3260,"y":0.82},{"x":3280,"y":0.80},{"x":3300,"y":0.88},{"x":3320,"y":0.85},{"x":3340,"y":0.80},{"x":3360,"y":0.92},{"x":3380,"y":0.88},{"x":3400,"y":0.82},{"x":3420,"y":0.86},{"x":3440,"y":0.90},{"x":3460,"y":0.84},{"x":3480,"y":0.85},{"x":3500,"y":0.90},{"x":3520,"y":0.88},{"x":3540,"y":0.84},{"x":3560,"y":0.92},{"x":3580,"y":0.90},{"x":3598,"y":0.95},
      {"x":3600,"y":1.55},{"x":3620,"y":1.55},{"x":3640,"y":1.40},{"x":3660,"y":1.40},{"x":3680,"y":1.10},{"x":3700,"y":1.05},{"x":3720,"y":0.90},{"x":3740,"y":0.85},{"x":3760,"y":0.70},{"x":3780,"y":0.65},{"x":3800,"y":0.62},{"x":3820,"y":0.55},{"x":3840,"y":0.58},{"x":3860,"y":0.64},{"x":3880,"y":0.60},{"x":3900,"y":0.56},{"x":3920,"y":0.62},{"x":3940,"y":0.66},{"x":3960,"y":0.58},{"x":3980,"y":0.62},{"x":3998,"y":0.65},
      {"x":4000,"y":0.95},{"x":4020,"y":1.00},{"x":4040,"y":1.03},{"x":4060,"y":0.85},{"x":4080,"y":0.80},{"x":4100,"y":0.78},{"x":4120,"y":0.70},{"x":4140,"y":0.62},{"x":4160,"y":0.55},{"x":4180,"y":0.65},{"x":4200,"y":0.60},{"x":4220,"y":0.48},{"x":4240,"y":0.40},{"x":4260,"y":0.42},{"x":4280,"y":0.35},{"x":4300,"y":0.28},{"x":4320,"y":0.20},{"x":4340,"y":0.15},{"x":4360,"y":0.10},{"x":4380,"y":0.05},{"x":4398,"y":0.00},
      {"x":4400,"y":0.45},{"x":4420,"y":0.48},{"x":4440,"y":0.50},{"x":4460,"y":0.55},{"x":4480,"y":0.60},{"x":4500,"y":0.65},{"x":4520,"y":0.78},{"x":4540,"y":1.37},{"x":4560,"y":1.38},{"x":4580,"y":1.30},{"x":4600,"y":1.20},{"x":4620,"y":0.90},{"x":4640,"y":0.82},{"x":4660,"y":0.85},{"x":4680,"y":0.80},{"x":4700,"y":0.88},{"x":4720,"y":0.95},{"x":4740,"y":0.92},{"x":4760,"y":1.00},{"x":4780,"y":1.04},{"x":4798,"y":1.05},
      {"x":4800,"y":0.25},{"x":4820,"y":0.30},{"x":4840,"y":0.28},{"x":4860,"y":0.34},{"x":4880,"y":0.32},{"x":4900,"y":0.38},{"x":4920,"y":0.40},{"x":4940,"y":0.46},{"x":4960,"y":0.45},{"x":4980,"y":0.52},{"x":5000,"y":0.50},{"x":5020,"y":0.53},{"x":5040,"y":0.55},{"x":5060,"y":0.61},{"x":5080,"y":0.60},{"x":5100,"y":0.63},{"x":5120,"y":0.66},{"x":5140,"y":0.71},{"x":5160,"y":0.72},{"x":5180,"y":0.78},{"x":5198,"y":0.79},
      {"x":5200,"y":0.10},{"x":5220,"y":0.13},{"x":5240,"y":0.12},{"x":5260,"y":0.15},{"x":5280,"y":0.16},{"x":5300,"y":0.19},{"x":5320,"y":0.20},{"x":5340,"y":0.23},{"x":5360,"y":0.24},{"x":5380,"y":0.27},{"x":5400,"y":0.28},{"x":5420,"y":0.32},{"x":5440,"y":0.33},{"x":5460,"y":0.36},{"x":5480,"y":0.38},{"x":5500,"y":0.41},{"x":5520,"y":0.42},{"x":5540,"y":0.45},{"x":5560,"y":0.46},{"x":5580,"y":0.48},{"x":5598,"y":0.50}
    ],
    "r2": [
      {"x":0,"y":0.10},{"x":20,"y":0.35},{"x":40,"y":0.60},{"x":60,"y":0.30},{"x":80,"y":0.15},{"x":100,"y":0.45},{"x":120,"y":0.78},{"x":140,"y":0.50},{"x":160,"y":0.35},{"x":180,"y":0.28},{"x":200,"y":0.25},{"x":220,"y":0.35},{"x":240,"y":0.40},{"x":260,"y":0.34},{"x":280,"y":0.30},{"x":300,"y":0.40},{"x":320,"y":0.35},{"x":340,"y":0.28},{"x":360,"y":0.25},{"x":380,"y":0.33},{"x":398,"y":0.30},
      {"x":400,"y":0.03},{"x":420,"y":0.00},{"x":440,"y":-0.10},{"x":460,"y":0.10},{"x":480,"y":0.25},{"x":500,"y":0.38},{"x":520,"y":0.45},{"x":540,"y":0.58},{"x":560,"y":0.55},{"x":580,"y":0.48},{"x":600,"y":0.42},{"x":620,"y":0.38},{"x":640,"y":0.35},{"x":660,"y":0.44},{"x":680,"y":0.48},{"x":700,"y":0.42},{"x":720,"y":0.45},{"x":740,"y":0.38},{"x":760,"y":0.40},{"x":780,"y":0.47},{"x":798,"y":0.45},
      {"x":800,"y":0.80},{"x":820,"y":1.00},{"x":840,"y":1.04},{"x":860,"y":0.85},{"x":880,"y":0.75},{"x":900,"y":0.82},{"x":920,"y":0.90},{"x":940,"y":0.72},{"x":960,"y":0.65},{"x":980,"y":0.90},{"x":1000,"y":0.96},{"x":1020,"y":0.80},{"x":1040,"y":0.70},{"x":1060,"y":0.60},{"x":1080,"y":0.55},{"x":1100,"y":0.45},{"x":1120,"y":0.50},{"x":1140,"y":0.58},{"x":1160,"y":0.60},{"x":1180,"y":0.45},{"x":1198,"y":0.38},
      {"x":1200,"y":0.90},{"x":1220,"y":1.00},{"x":1240,"y":0.98},{"x":1260,"y":0.90},{"x":1280,"y":0.85},{"x":1300,"y":0.92},{"x":1320,"y":0.95},{"x":1340,"y":0.82},{"x":1360,"y":0.75},{"x":1380,"y":0.76},{"x":1400,"y":0.70},{"x":1420,"y":0.64},{"x":1440,"y":0.60},{"x":1460,"y":0.58},{"x":1480,"y":0.55},{"x":1500,"y":0.50},{"x":1520,"y":0.48},{"x":1540,"y":0.44},{"x":1560,"y":0.45},{"x":1580,"y":0.43},{"x":1598,"y":0.42},
      {"x":1600,"y":0.55},{"x":1620,"y":0.68},{"x":1640,"y":0.80},{"x":1660,"y":0.62},{"x":1680,"y":0.50},{"x":1700,"y":0.62},{"x":1720,"y":0.72},{"x":1740,"y":0.60},{"x":1760,"y":0.55},{"x":1780,"y":0.64},{"x":1800,"y":0.68},{"x":1820,"y":0.62},{"x":1840,"y":0.60},{"x":1860,"y":0.52},{"x":1880,"y":0.55},{"x":1900,"y":0.60},{"x":1920,"y":0.62},{"x":1940,"y":0.66},{"x":1960,"y":0.60},{"x":1980,"y":0.56},{"x":1998,"y":0.58},
      {"x":2000,"y":0.35},{"x":2020,"y":0.32},{"x":2040,"y":0.30},{"x":2060,"y":0.30},{"x":2080,"y":0.28},{"x":2100,"y":0.25},{"x":2120,"y":0.25},{"x":2140,"y":0.28},{"x":2160,"y":0.28},{"x":2180,"y":0.27},{"x":2200,"y":0.26},{"x":2220,"y":0.28},{"x":2240,"y":0.27},{"x":2260,"y":0.30},{"x":2280,"y":0.30},{"x":2300,"y":0.33},{"x":2320,"y":0.35},{"x":2340,"y":0.38},{"x":2360,"y":0.40},{"x":2380,"y":0.40},{"x":2398,"y":0.42},
      {"x":2400,"y":0.40},{"x":2420,"y":0.35},{"x":2440,"y":0.22},{"x":2460,"y":0.40},{"x":2480,"y":0.48},{"x":2500,"y":0.44},{"x":2520,"y":0.40},{"x":2540,"y":0.46},{"x":2560,"y":0.52},{"x":2580,"y":0.45},{"x":2600,"y":0.42},{"x":2620,"y":0.36},{"x":2640,"y":0.38},{"x":2660,"y":0.42},{"x":2680,"y":0.45},{"x":2700,"y":0.38},{"x":2720,"y":0.40},{"x":2740,"y":0.46},{"x":2760,"y":0.42},{"x":2780,"y":0.36},{"x":2798,"y":0.38},
      {"x":2800,"y":0.80},{"x":2820,"y":0.68},{"x":2840,"y":0.72},{"x":2860,"y":0.70},{"x":2880,"y":0.65},{"x":2900,"y":0.62},{"x":2920,"y":0.70},{"x":2940,"y":0.66},{"x":2960,"y":0.62},{"x":2980,"y":0.70},{"x":3000,"y":0.66},{"x":3020,"y":0.62},{"x":3040,"y":0.60},{"x":3060,"y":0.55},{"x":3080,"y":0.58},{"x":3100,"y":0.60},{"x":3120,"y":0.55},{"x":3140,"y":0.52},{"x":3160,"y":0.57},{"x":3180,"y":0.55},{"x":3198,"y":0.54},
      {"x":3200,"y":0.40},{"x":3220,"y":0.62},{"x":3240,"y":0.70},{"x":3260,"y":0.80},{"x":3280,"y":0.85},{"x":3300,"y":0.76},{"x":3320,"y":0.78},{"x":3340,"y":0.84},{"x":3360,"y":0.88},{"x":3380,"y":0.90},{"x":3400,"y":0.95},{"x":3420,"y":0.85},{"x":3440,"y":0.80},{"x":3460,"y":0.84},{"x":3480,"y":0.87},{"x":3500,"y":0.92},{"x":3520,"y":0.90},{"x":3540,"y":0.86},{"x":3560,"y":0.84},{"x":3580,"y":0.90},{"x":3598,"y":0.88},
      {"x":3600,"y":1.05},{"x":3620,"y":1.00},{"x":3640,"y":0.95},{"x":3660,"y":1.30},{"x":3680,"y":1.33},{"x":3700,"y":0.95},{"x":3720,"y":0.80},{"x":3740,"y":0.85},{"x":3760,"y":0.75},{"x":3780,"y":0.60},{"x":3800,"y":0.55},{"x":3820,"y":0.52},{"x":3840,"y":0.50},{"x":3860,"y":0.53},{"x":3880,"y":0.55},{"x":3900,"y":0.60},{"x":3920,"y":0.58},{"x":3940,"y":0.56},{"x":3960,"y":0.62},{"x":3980,"y":0.58},{"x":3998,"y":0.60},
      {"x":4000,"y":0.75},{"x":4020,"y":0.70},{"x":4040,"y":0.60},{"x":4060,"y":0.78},{"x":4080,"y":0.82},{"x":4100,"y":0.62},{"x":4120,"y":0.55},{"x":4140,"y":0.60},{"x":4160,"y":0.65},{"x":4180,"y":0.55},{"x":4200,"y":0.50},{"x":4220,"y":0.42},{"x":4240,"y":0.45},{"x":4260,"y":0.35},{"x":4280,"y":0.30},{"x":4300,"y":0.36},{"x":4320,"y":0.38},{"x":4340,"y":0.25},{"x":4360,"y":0.20},{"x":4380,"y":0.10},{"x":4398,"y":0.05},
      {"x":4400,"y":0.35},{"x":4420,"y":0.40},{"x":4440,"y":0.45},{"x":4460,"y":0.52},{"x":4480,"y":0.55},{"x":4500,"y":0.50},{"x":4520,"y":0.48},{"x":4540,"y":0.45},{"x":4560,"y":0.50},{"x":4580,"y":0.70},{"x":4600,"y":0.75},{"x":4620,"y":0.72},{"x":4640,"y":0.70},{"x":4660,"y":0.76},{"x":4680,"y":0.80},{"x":4700,"y":0.88},{"x":4720,"y":0.90},{"x":4740,"y":0.84},{"x":4760,"y":0.85},{"x":4780,"y":0.92},{"x":4798,"y":0.95},
      {"x":4800,"y":0.22},{"x":4820,"y":0.27},{"x":4840,"y":0.30},{"x":4860,"y":0.31},{"x":4880,"y":0.35},{"x":4900,"y":0.39},{"x":4920,"y":0.38},{"x":4940,"y":0.43},{"x":4960,"y":0.46},{"x":4980,"y":0.50},{"x":5000,"y":0.48},{"x":5020,"y":0.53},{"x":5040,"y":0.56},{"x":5060,"y":0.55},{"x":5080,"y":0.58},{"x":5100,"y":0.62},{"x":5120,"y":0.64},{"x":5140,"y":0.67},{"x":5160,"y":0.70},{"x":5180,"y":0.74},{"x":5198,"y":0.78},
      {"x":5200,"y":0.08},{"x":5220,"y":0.11},{"x":5240,"y":0.14},{"x":5260,"y":0.15},{"x":5280,"y":0.18},{"x":5300,"y":0.21},{"x":5320,"y":0.22},{"x":5340,"y":0.25},{"x":5360,"y":0.26},{"x":5380,"y":0.28},{"x":5400,"y":0.30},{"x":5420,"y":0.33},{"x":5440,"y":0.35},{"x":5460,"y":0.37},{"x":5480,"y":0.38},{"x":5500,"y":0.42},{"x":5520,"y":0.44},{"x":5540,"y":0.43},{"x":5560,"y":0.45},{"x":5580,"y":0.47},{"x":5598,"y":0.48}
    ],
    "r3": [
      {"x":0,"y":0.25},{"x":20,"y":0.40},{"x":40,"y":0.30},{"x":60,"y":0.45},{"x":80,"y":0.50},{"x":100,"y":0.30},{"x":120,"y":0.15},{"x":140,"y":0.30},{"x":160,"y":0.40},{"x":180,"y":0.50},{"x":200,"y":0.45},{"x":220,"y":0.35},{"x":240,"y":0.30},{"x":260,"y":0.22},{"x":280,"y":0.20},{"x":300,"y":0.30},{"x":320,"y":0.40},{"x":340,"y":0.34},{"x":360,"y":0.30},{"x":380,"y":0.36},{"x":398,"y":0.40},
      {"x":400,"y":0.20},{"x":420,"y":0.35},{"x":440,"y":0.50},{"x":460,"y":0.42},{"x":480,"y":0.40},{"x":500,"y":0.52},{"x":520,"y":0.58},{"x":540,"y":0.50},{"x":560,"y":0.48},{"x":580,"y":0.56},{"x":600,"y":0.52},{"x":620,"y":0.44},{"x":640,"y":0.40},{"x":660,"y":0.38},{"x":680,"y":0.35},{"x":700,"y":0.32},{"x":720,"y":0.30},{"x":740,"y":0.34},{"x":760,"y":0.38},{"x":780,"y":0.35},{"x":798,"y":0.33},
      {"x":800,"y":0.55},{"x":820,"y":0.70},{"x":840,"y":0.80},{"x":860,"y":0.70},{"x":880,"y":0.65},{"x":900,"y":0.75},{"x":920,"y":0.70},{"x":940,"y":0.60},{"x":960,"y":0.55},{"x":980,"y":0.62},{"x":1000,"y":0.60},{"x":1020,"y":0.52},{"x":1040,"y":0.50},{"x":1060,"y":0.55},{"x":1080,"y":0.58},{"x":1100,"y":0.50},{"x":1120,"y":0.45},{"x":1140,"y":0.42},{"x":1160,"y":0.40},{"x":1180,"y":0.48},{"x":1198,"y":0.45},
      {"x":1200,"y":0.80},{"x":1220,"y":0.88},{"x":1240,"y":0.85},{"x":1260,"y":0.92},{"x":1280,"y":0.95},{"x":1300,"y":0.85},{"x":1320,"y":0.78},{"x":1340,"y":0.84},{"x":1360,"y":0.82},{"x":1380,"y":0.72},{"x":1400,"y":0.68},{"x":1420,"y":0.65},{"x":1440,"y":0.62},{"x":1460,"y":0.64},{"x":1480,"y":0.60},{"x":1500,"y":0.57},{"x":1520,"y":0.56},{"x":1540,"y":0.52},{"x":1560,"y":0.55},{"x":1580,"y":0.60},{"x":1598,"y":0.58},
      {"x":1600,"y":0.60},{"x":1620,"y":0.50},{"x":1640,"y":0.45},{"x":1660,"y":0.62},{"x":1680,"y":0.75},{"x":1700,"y":0.66},{"x":1720,"y":0.62},{"x":1740,"y":0.68},{"x":1760,"y":0.70},{"x":1780,"y":0.60},{"x":1800,"y":0.55},{"x":1820,"y":0.62},{"x":1840,"y":0.65},{"x":1860,"y":0.70},{"x":1880,"y":0.68},{"x":1900,"y":0.62},{"x":1920,"y":0.58},{"x":1940,"y":0.62},{"x":1960,"y":0.64},{"x":1980,"y":0.58},{"x":1998,"y":0.60},
      {"x":2000,"y":0.50},{"x":2020,"y":0.45},{"x":2040,"y":0.40},{"x":2060,"y":0.46},{"x":2080,"y":0.45},{"x":2100,"y":0.40},{"x":2120,"y":0.38},{"x":2140,"y":0.43},{"x":2160,"y":0.42},{"x":2180,"y":0.38},{"x":2200,"y":0.36},{"x":2220,"y":0.40},{"x":2240,"y":0.40},{"x":2260,"y":0.44},{"x":2280,"y":0.45},{"x":2300,"y":0.40},{"x":2320,"y":0.42},{"x":2340,"y":0.46},{"x":2360,"y":0.48},{"x":2380,"y":0.44},{"x":2398,"y":0.45},
      {"x":2400,"y":0.52},{"x":2420,"y":0.60},{"x":2440,"y":0.55},{"x":2460,"y":0.48},{"x":2480,"y":0.45},{"x":2500,"y":0.36},{"x":2520,"y":0.40},{"x":2540,"y":0.46},{"x":2560,"y":0.50},{"x":2580,"y":0.56},{"x":2600,"y":0.55},{"x":2620,"y":0.50},{"x":2640,"y":0.48},{"x":2660,"y":0.40},{"x":2680,"y":0.44},{"x":2700,"y":0.52},{"x":2720,"y":0.50},{"x":2740,"y":0.44},{"x":2760,"y":0.40},{"x":2780,"y":0.42},{"x":2798,"y":0.45},
      {"x":2800,"y":0.70},{"x":2820,"y":0.78},{"x":2840,"y":0.85},{"x":2860,"y":0.70},{"x":2880,"y":0.62},{"x":2900,"y":0.66},{"x":2920,"y":0.58},{"x":2940,"y":0.64},{"x":2960,"y":0.68},{"x":2980,"y":0.60},{"x":3000,"y":0.55},{"x":3020,"y":0.58},{"x":3040,"y":0.60},{"x":3060,"y":0.54},{"x":3080,"y":0.56},{"x":3100,"y":0.58},{"x":3120,"y":0.53},{"x":3140,"y":0.50},{"x":3160,"y":0.52},{"x":3180,"y":0.56},{"x":3198,"y":0.55},
      {"x":3200,"y":0.65},{"x":3220,"y":0.72},{"x":3240,"y":0.78},{"x":3260,"y":0.70},{"x":3280,"y":0.74},{"x":3300,"y":0.82},{"x":3320,"y":0.80},{"x":3340,"y":0.74},{"x":3360,"y":0.76},{"x":3380,"y":0.80},{"x":3400,"y":0.85},{"x":3420,"y":0.80},{"x":3440,"y":0.82},{"x":3460,"y":0.75},{"x":3480,"y":0.78},{"x":3500,"y":0.82},{"x":3520,"y":0.80},{"x":3540,"y":0.86},{"x":3560,"y":0.85},{"x":3580,"y":0.80},{"x":3598,"y":0.82},
      {"x":3600,"y":0.95},{"x":3620,"y":0.92},{"x":3640,"y":0.85},{"x":3660,"y":0.88},{"x":3680,"y":0.90},{"x":3700,"y":0.80},{"x":3720,"y":0.70},{"x":3740,"y":0.78},{"x":3760,"y":0.80},{"x":3780,"y":0.68},{"x":3800,"y":0.60},{"x":3820,"y":0.62},{"x":3840,"y":0.65},{"x":3860,"y":0.60},{"x":3880,"y":0.58},{"x":3900,"y":0.62},{"x":3920,"y":0.64},{"x":3940,"y":0.60},{"x":3960,"y":0.60},{"x":3980,"y":0.63},{"x":3998,"y":0.66},
      {"x":4000,"y":0.60},{"x":4020,"y":0.40},{"x":4040,"y":0.20},{"x":4060,"y":0.25},{"x":4080,"y":0.30},{"x":4100,"y":0.20},{"x":4120,"y":0.15},{"x":4140,"y":0.12},{"x":4160,"y":0.10},{"x":4180,"y":0.30},{"x":4200,"y":0.40},{"x":4220,"y":0.30},{"x":4240,"y":0.25},{"x":4260,"y":0.32},{"x":4280,"y":0.35},{"x":4300,"y":0.18},{"x":4320,"y":0.10},{"x":4340,"y":0.04},{"x":4360,"y":0.02},{"x":4380,"y":0.05},{"x":4398,"y":0.08},
      {"x":4400,"y":0.55},{"x":4420,"y":0.48},{"x":4440,"y":0.40},{"x":4460,"y":0.46},{"x":4480,"y":0.50},{"x":4500,"y":0.58},{"x":4520,"y":0.60},{"x":4540,"y":0.52},{"x":4560,"y":0.55},{"x":4580,"y":0.62},{"x":4600,"y":0.65},{"x":4620,"y":0.75},{"x":4640,"y":0.80},{"x":4660,"y":0.78},{"x":4680,"y":0.75},{"x":4700,"y":0.72},{"x":4720,"y":0.70},{"x":4740,"y":0.76},{"x":4760,"y":0.78},{"x":4780,"y":0.82},{"x":4798,"y":0.80},
      {"x":4800,"y":0.28},{"x":4820,"y":0.26},{"x":4840,"y":0.25},{"x":4860,"y":0.30},{"x":4880,"y":0.33},{"x":4900,"y":0.34},{"x":4920,"y":0.36},{"x":4940,"y":0.40},{"x":4960,"y":0.42},{"x":4980,"y":0.43},{"x":5000,"y":0.46},{"x":5020,"y":0.49},{"x":5040,"y":0.50},{"x":5060,"y":0.52},{"x":5080,"y":0.55},{"x":5100,"y":0.58},{"x":5120,"y":0.60},{"x":5140,"y":0.62},{"x":5160,"y":0.65},{"x":5180,"y":0.68},{"x":5198,"y":0.70},
      {"x":5200,"y":0.12},{"x":5220,"y":0.11},{"x":5240,"y":0.10},{"x":5260,"y":0.13},{"x":5280,"y":0.15},{"x":5300,"y":0.18},{"x":5320,"y":0.19},{"x":5340,"y":0.21},{"x":5360,"y":0.23},{"x":5380,"y":0.26},{"x":5400,"y":0.27},{"x":5420,"y":0.30},{"x":5440,"y":0.32},{"x":5460,"y":0.34},{"x":5480,"y":0.36},{"x":5500,"y":0.39},{"x":5520,"y":0.40},{"x":5540,"y":0.41},{"x":5560,"y":0.42},{"x":5580,"y":0.45},{"x":5598,"y":0.46}
    ],
    "r4": [
      {"x":0,"y":-0.07},{"x":20,"y":-0.07},{"x":40,"y":-0.07},{"x":60,"y":0.08},{"x":80,"y":0.10},{"x":100,"y":0.09},{"x":120,"y":0.12},{"x":140,"y":0.12},{"x":160,"y":0.15},{"x":180,"y":0.15},{"x":200,"y":0.18},{"x":220,"y":0.18},{"x":240,"y":0.20},{"x":260,"y":0.17},{"x":280,"y":0.18},{"x":300,"y":0.21},{"x":320,"y":0.22},{"x":340,"y":0.22},{"x":360,"y":0.25},{"x":380,"y":0.24},{"x":398,"y":0.26},
      {"x":400,"y":0.25},{"x":420,"y":0.20},{"x":440,"y":0.15},{"x":460,"y":0.28},{"x":480,"y":0.35},{"x":500,"y":0.42},{"x":520,"y":0.48},{"x":540,"y":0.44},{"x":560,"y":0.40},{"x":580,"y":0.46},{"x":600,"y":0.50},{"x":620,"y":0.48},{"x":640,"y":0.45},{"x":660,"y":0.42},{"x":680,"y":0.38},{"x":700,"y":0.40},{"x":720,"y":0.42},{"x":740,"y":0.37},{"x":760,"y":0.35},{"x":780,"y":0.30},{"x":798,"y":0.32},
      {"x":800,"y":0.75},{"x":820,"y":0.68},{"x":840,"y":0.60},{"x":860,"y":0.75},{"x":880,"y":0.85},{"x":900,"y":0.80},{"x":920,"y":0.72},{"x":940,"y":0.64},{"x":960,"y":0.60},{"x":980,"y":0.58},{"x":1000,"y":0.55},{"x":1020,"y":0.62},{"x":1040,"y":0.65},{"x":1060,"y":0.55},{"x":1080,"y":0.48},{"x":1100,"y":0.50},{"x":1120,"y":0.52},{"x":1140,"y":0.40},{"x":1160,"y":0.35},{"x":1180,"y":0.38},{"x":1198,"y":0.33},
      {"x":1200,"y":0.70},{"x":1220,"y":0.85},{"x":1240,"y":0.92},{"x":1260,"y":0.86},{"x":1280,"y":0.80},{"x":1300,"y":0.82},{"x":1320,"y":0.88},{"x":1340,"y":0.76},{"x":1360,"y":0.70},{"x":1380,"y":0.72},{"x":1400,"y":0.75},{"x":1420,"y":0.70},{"x":1440,"y":0.65},{"x":1460,"y":0.66},{"x":1480,"y":0.62},{"x":1500,"y":0.60},{"x":1520,"y":0.58},{"x":1540,"y":0.62},{"x":1560,"y":0.60},{"x":1580,"y":0.56},{"x":1598,"y":0.55},
      {"x":1600,"y":0.40},{"x":1620,"y":0.55},{"x":1640,"y":0.65},{"x":1660,"y":0.60},{"x":1680,"y":0.58},{"x":1700,"y":0.52},{"x":1720,"y":0.50},{"x":1740,"y":0.56},{"x":1760,"y":0.60},{"x":1780,"y":0.62},{"x":1800,"y":0.65},{"x":1820,"y":0.58},{"x":1840,"y":0.52},{"x":1860,"y":0.56},{"x":1880,"y":0.62},{"x":1900,"y":0.60},{"x":1920,"y":0.55},{"x":1940,"y":0.60},{"x":1960,"y":0.66},{"x":1980,"y":0.60},{"x":1998,"y":0.55},
      {"x":2000,"y":0.55},{"x":2020,"y":0.50},{"x":2040,"y":0.48},{"x":2060,"y":0.44},{"x":2080,"y":0.42},{"x":2100,"y":0.44},{"x":2120,"y":0.45},{"x":2140,"y":0.48},{"x":2160,"y":0.50},{"x":2180,"y":0.48},{"x":2200,"y":0.46},{"x":2220,"y":0.50},{"x":2240,"y":0.52},{"x":2260,"y":0.46},{"x":2280,"y":0.44},{"x":2300,"y":0.48},{"x":2320,"y":0.50},{"x":2340,"y":0.47},{"x":2360,"y":0.46},{"x":2380,"y":0.49},{"x":2398,"y":0.48},
      {"x":2400,"y":0.35},{"x":2420,"y":0.40},{"x":2440,"y":0.42},{"x":2460,"y":0.48},{"x":2480,"y":0.50},{"x":2500,"y":0.46},{"x":2520,"y":0.45},{"x":2540,"y":0.40},{"x":2560,"y":0.38},{"x":2580,"y":0.40},{"x":2600,"y":0.42},{"x":2620,"y":0.48},{"x":2640,"y":0.52},{"x":2660,"y":0.45},{"x":2680,"y":0.40},{"x":2700,"y":0.43},{"x":2720,"y":0.45},{"x":2740,"y":0.50},{"x":2760,"y":0.48},{"x":2780,"y":0.42},{"x":2798,"y":0.40},
      {"x":2800,"y":0.62},{"x":2820,"y":0.66},{"x":2840,"y":0.68},{"x":2860,"y":0.70},{"x":2880,"y":0.72},{"x":2900,"y":0.66},{"x":2920,"y":0.60},{"x":2940,"y":0.57},{"x":2960,"y":0.55},{"x":2980,"y":0.60},{"x":3000,"y":0.62},{"x":3020,"y":0.60},{"x":3040,"y":0.58},{"x":3060,"y":0.54},{"x":3080,"y":0.52},{"x":3100,"y":0.55},{"x":3120,"y":0.56},{"x":3140,"y":0.52},{"x":3160,"y":0.50},{"x":3180,"y":0.50},{"x":3198,"y":0.52},
      {"x":3200,"y":0.72},{"x":3220,"y":0.77},{"x":3240,"y":0.80},{"x":3260,"y":0.74},{"x":3280,"y":0.70},{"x":3300,"y":0.73},{"x":3320,"y":0.76},{"x":3340,"y":0.72},{"x":3360,"y":0.74},{"x":3380,"y":0.77},{"x":3400,"y":0.78},{"x":3420,"y":0.74},{"x":3440,"y":0.75},{"x":3460,"y":0.78},{"x":3480,"y":0.80},{"x":3500,"y":0.77},{"x":3520,"y":0.76},{"x":3540,"y":0.79},{"x":3560,"y":0.78},{"x":3580,"y":0.82},{"x":3598,"y":0.80},
      {"x":3600,"y":0.80},{"x":3620,"y":0.82},{"x":3640,"y":0.85},{"x":3660,"y":0.78},{"x":3680,"y":0.72},{"x":3700,"y":0.76},{"x":3720,"y":0.78},{"x":3740,"y":0.65},{"x":3760,"y":0.55},{"x":3780,"y":0.50},{"x":3800,"y":0.47},{"x":3820,"y":0.50},{"x":3840,"y":0.52},{"x":3860,"y":0.55},{"x":3880,"y":0.56},{"x":3900,"y":0.58},{"x":3920,"y":0.60},{"x":3940,"y":0.62},{"x":3960,"y":0.65},{"x":3980,"y":0.63},{"x":3998,"y":0.62},
      {"x":4000,"y":0.70},{"x":4020,"y":0.62},{"x":4040,"y":0.55},{"x":4060,"y":0.50},{"x":4080,"y":0.45},{"x":4100,"y":0.55},{"x":4120,"y":0.60},{"x":4140,"y":0.48},{"x":4160,"y":0.40},{"x":4180,"y":0.35},{"x":4200,"y":0.30},{"x":4220,"y":0.20},{"x":4240,"y":0.15},{"x":4260,"y":0.18},{"x":4280,"y":0.20},{"x":4300,"y":0.10},{"x":4320,"y":0.05},{"x":4340,"y":0.08},{"x":4360,"y":0.10},{"x":4380,"y":0.04},{"x":4398,"y":0.02},
      {"x":4400,"y":0.26},{"x":4420,"y":0.28},{"x":4440,"y":0.30},{"x":4460,"y":0.30},{"x":4480,"y":0.28},{"x":4500,"y":0.30},{"x":4520,"y":0.35},{"x":4540,"y":0.38},{"x":4560,"y":0.40},{"x":4580,"y":0.42},{"x":4600,"y":0.45},{"x":4620,"y":0.45},{"x":4640,"y":0.50},{"x":4660,"y":0.52},{"x":4680,"y":0.55},{"x":4700,"y":0.60},{"x":4720,"y":0.65},{"x":4740,"y":0.68},{"x":4760,"y":0.72},{"x":4780,"y":0.74},{"x":4798,"y":0.75},
      {"x":4800,"y":0.20},{"x":4820,"y":0.24},{"x":4840,"y":0.26},{"x":4860,"y":0.28},{"x":4880,"y":0.30},{"x":4900,"y":0.33},{"x":4920,"y":0.34},{"x":4940,"y":0.38},{"x":4960,"y":0.40},{"x":4980,"y":0.41},{"x":5000,"y":0.44},{"x":5020,"y":0.47},{"x":5040,"y":0.48},{"x":5060,"y":0.51},{"x":5080,"y":0.53},{"x":5100,"y":0.56},{"x":5120,"y":0.58},{"x":5140,"y":0.59},{"x":5160,"y":0.62},{"x":5180,"y":0.65},{"x":5198,"y":0.66},
      {"x":5200,"y":0.09},{"x":5220,"y":0.11},{"x":5240,"y":0.12},{"x":5260,"y":0.15},{"x":5280,"y":0.17},{"x":5300,"y":0.19},{"x":5320,"y":0.21},{"x":5340,"y":0.22},{"x":5360,"y":0.22},{"x":5380,"y":0.25},{"x":5400,"y":0.26},{"x":5420,"y":0.28},{"x":5440,"y":0.30},{"x":5460,"y":0.32},{"x":5480,"y":0.34},{"x":5500,"y":0.36},{"x":5520,"y":0.38},{"x":5540,"y":0.41},{"x":5560,"y":0.43},{"x":5580,"y":0.44},{"x":5598,"y":0.44}
    ],
    "bounds": [
      {"x":400},{"x":800},{"x":1200},{"x":1600},{"x":2000},{"x":2400},{"x":2800},{"x":3200},{"x":3600},{"x":4000},{"x":4400},{"x":4800},{"x":5200}
    ],
    "xticks": [
      {"x":20,"t":"0"},{"x":265,"t":"300"},{"x":465,"t":"0"},{"x":665,"t":"300"},{"x":865,"t":"0"},{"x":1065,"t":"300"},{"x":1265,"t":"0"},{"x":1465,"t":"300"},{"x":1665,"t":"0"},{"x":1865,"t":"300"},{"x":2065,"t":"0"},{"x":2265,"t":"300"},{"x":2465,"t":"0"},{"x":2665,"t":"300"},{"x":2865,"t":"0"},{"x":3065,"t":"300"},{"x":3265,"t":"0"},{"x":3465,"t":"300"},{"x":3665,"t":"0"},{"x":3865,"t":"300"},{"x":4065,"t":"0"},{"x":4265,"t":"300"},{"x":4465,"t":"0"},{"x":4665,"t":"300"},{"x":4865,"t":"0"},{"x":5065,"t":"300"},{"x":5265,"t":"0"},{"x":5515,"t":"300"}
    ],
    "labels": [
      {"x":200,"label":"Nematic order (core)"},
      {"x":600,"label":"Nematic order (shell)"},
      {"x":1000,"label":"Vertical alignment (core)"},
      {"x":1400,"label":"Vertical alignment (shell)"},
      {"x":1800,"label":"Radial alignment (core)"},
      {"x":2200,"label":"Radial alignment (shell)"},
      {"x":2600,"label":"Cell–cell distance (core)"},
      {"x":3000,"label":"Cell–cell distance (shell)"},
      {"x":3400,"label":"Cell length"},
      {"x":3800,"label":"Global density"},
      {"x":4200,"label":"Biofilm base circularity"},
      {"x":4600,"label":"Z/XY"},
      {"x":5000,"label":"Local density (core)"},
      {"x":5400,"label":"Local density (shell)"}
    ]
  },
  "resolve": {"axis": {"y": "independent"}},
  "layer": [
    {
      "data": {"name": "bounds"},
      "mark": {"type": "rule", "strokeDash": [6, 4], "strokeWidth": 2, "color": "black"},
      "encoding": {"x": {"field": "x", "type": "quantitative", "scale": {"domain": [0, 5600], "nice": false, "zero": false}}}
    },
    {
      "encoding": {
        "x": {
          "field": "x", "type": "quantitative",
          "scale": {"domain": [0, 5600], "nice": false, "zero": false},
          "axis": {"title": "Cell number", "labels": false, "ticks": false, "titleFontSize": 24, "titlePadding": 53}
        },
        "y": {
          "field": "y", "type": "quantitative",
          "scale": {"domain": [-0.2, 1.5], "nice": false, "zero": false},
          "axis": {
            "title": "Normalized parameter value",
            "values": [-0.2, 0, 0.2, 0.4, 0.6, 0.8, 1, 1.2, 1.4],
            "labelExpr": "datum.value < 0 ? '-' + format(-datum.value, '~g') : format(datum.value, '~g')",
            "tickSize": -12,
            "tickWidth": 1.5,
            "tickColor": "black",
            "labelFontSize": 21,
            "labelPadding": 26,
            "titleFontSize": 24,
            "titlePadding": 11
          }
        }
      },
      "layer": [
        {"data": {"name": "b1"}, "mark": {"type": "line", "strokeWidth": 2, "clip": true},
         "encoding": {"color": {"datum": "Δrbma mutant", "type": "nominal",
           "scale": {"domain": ["WT*", "Δrbma mutant"], "range": ["#c4302f", "#0a72bd"]},
           "legend": {"title": null, "orient": "none", "legendX": 25, "legendY": 24, "symbolType": "M-1,0H7", "symbolSize": 324, "symbolStrokeWidth": 2, "labelFontSize": 20, "labelFont": "Open Sans", "labelColor": "black", "strokeColor": "#262626", "fillColor": "white", "padding": 9, "rowPadding": 9, "labelOffset": 60, "labelLimit": 0}}}},
        {"data": {"name": "b2"}, "mark": {"type": "line", "strokeWidth": 2, "clip": true}, "encoding": {"color": {"datum": "Δrbma mutant", "type": "nominal"}}},
        {"data": {"name": "b3"}, "mark": {"type": "line", "strokeWidth": 2, "clip": true}, "encoding": {"color": {"datum": "Δrbma mutant", "type": "nominal"}}},
        {"data": {"name": "b4"}, "mark": {"type": "line", "strokeWidth": 2, "clip": true}, "encoding": {"color": {"datum": "Δrbma mutant", "type": "nominal"}}},
        {"data": {"name": "r1"}, "mark": {"type": "line", "strokeWidth": 2, "clip": true}, "encoding": {"color": {"datum": "WT*", "type": "nominal"}}},
        {"data": {"name": "r2"}, "mark": {"type": "line", "strokeWidth": 2, "clip": true}, "encoding": {"color": {"datum": "WT*", "type": "nominal"}}},
        {"data": {"name": "r3"}, "mark": {"type": "line", "strokeWidth": 2, "clip": true}, "encoding": {"color": {"datum": "WT*", "type": "nominal"}}},
        {"data": {"name": "r4"}, "mark": {"type": "line", "strokeWidth": 2, "clip": true}, "encoding": {"color": {"datum": "WT*", "type": "nominal"}}}
      ]
    },
    {
      "data": {"name": "labels"},
      "mark": {"type": "text", "angle": 270, "align": "left", "baseline": "middle", "dx": 9, "font": "Open Sans", "fontSize": 18, "fontWeight": "bold", "fill": "white", "stroke": "white", "strokeWidth": 14, "strokeJoin": "round", "opacity": 0.5},
      "encoding": {
        "x": {"field": "x", "type": "quantitative"},
        "y": {"datum": -0.2, "type": "quantitative", "axis": null},
        "text": {"field": "label"}
      }
    },
    {
      "data": {"name": "labels"},
      "mark": {"type": "text", "angle": 270, "align": "left", "baseline": "middle", "dx": 9, "font": "Open Sans", "fontSize": 18, "fontWeight": "bold", "color": "black"},
      "encoding": {
        "x": {"field": "x", "type": "quantitative"},
        "y": {"datum": -0.2, "type": "quantitative",
          "axis": {"orient": "right", "labels": false, "title": null, "values": [-0.2, 0, 0.2, 0.4, 0.6, 0.8, 1, 1.2, 1.4], "tickSize": -12, "tickWidth": 1.5, "tickColor": "black"}},
        "text": {"field": "label"}
      }
    },
    {
      "data": {"name": "xticks"},
      "mark": {"type": "text", "align": "center", "baseline": "top", "dy": 17, "font": "Open Sans", "fontSize": 21, "color": "black"},
      "encoding": {
        "x": {"field": "x", "type": "quantitative"},
        "y": {"datum": -0.2, "type": "quantitative", "axis": null},
        "text": {"field": "t"}
      }
    },
    {
      "data": {"name": "bounds"},
      "mark": {"type": "text", "align": "center", "baseline": "top", "dy": 15, "font": "Open Sans", "fontSize": 24, "fontWeight": "bold", "color": "black"},
      "encoding": {
        "x": {"field": "x", "type": "quantitative"},
        "y": {"datum": -0.2, "type": "quantitative", "axis": null},
        "text": {"value": "|"}
      }
    }
  ]
}
